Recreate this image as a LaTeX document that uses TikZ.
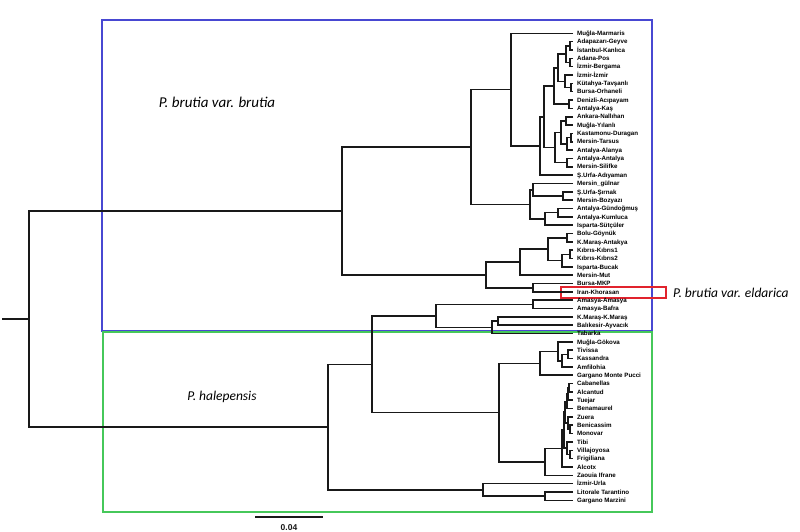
\documentclass[tikz,border=0pt]{standalone}
\usepackage{fontspec}
\setmainfont{Liberation Sans}
\newfontfamily\cladefont{Carlito}
\definecolor{boxblue}{RGB}{72,72,210}
\definecolor{boxgreen}{RGB}{70,200,90}
\definecolor{boxred}{RGB}{225,35,45}

\begin{document}
\begin{tikzpicture}[
		x=1pt, y=-1pt,
		every node/.style={inner sep=0pt},
		leaf/.style={anchor=west, inner xsep=4pt, font=\bfseries\fontsize{6.2}{7}\selectfont, text height=4.5pt, text depth=0pt},
		branch/.style={line width=1.6pt, black!90},
		clade/.style={line width=1.1pt},
		cladelbl/.style={font=\cladefont\itshape\fontsize{13.5}{15}\selectfont}
	]
		\useasboundingbox (0,0) rectangle (800,531);

		% clade boxes
		\draw[clade, boxblue] (102,20) rectangle (652,331);
		\draw[clade, boxgreen] (103,332) rectangle (652,512);
		\draw[clade, boxred] (561,287) rectangle (666,298);

		\node[cladelbl, font=\cladefont\itshape\fontsize{15}{17}\selectfont] (brutia) at (217,102) {P. brutia var. brutia};
		\node[cladelbl] (halep) at (222,397) {P. halepensis};
		\node[cladelbl, anchor=west] (eldar) at (673,293) {P. brutia var. eldarica};

		% leaves
		\foreach \site [count=\i] in {Muğla-Marmaris, Adapazarı-Geyve, İstanbul-Kanlıca, Adana-Pos,
			İzmir-Bergama, İzmir-İzmir, Kütahya-Tavşanlı, Bursa-Orhaneli, Denizli-Acıpayam, Antalya-Kaş,
			Ankara-Nallıhan, Muğla-Yılanlı, Kastamonu-Duragan, Mersin-Tarsus, Antalya-Alanya,
			Antalya-Antalya, Mersin-Silifke, Ş.Urfa-Adıyaman, Mersin\_gülnar, Ş.Urfa-Şırnak,
			Mersin-Bozyazı, Antalya-Gündoğmuş, Antalya-Kumluca, Isparta-Sütçüler, Bolu-Göynük,
			K.Maraş-Antakya, Kıbrıs-Kıbrıs1, Kıbrıs-Kıbrıs2, Isparta-Bucak, Mersin-Mut, Bursa-MKP,
			Iran-Khorasan, Amasya-Amasya, Amasya-Bafra, K.Maraş-K.Maraş, Balıkesir-Ayvacık, Tabarka,
			Muğla-Gökova, Tivissa, Kassandra, Amfilohia, Gargano Monte Pucci, Cabanellas, Alcantud,
			Tuejar, Benamaurel, Zuera, Benicassim, Monovar, Tibi, Villajoyosa, Frigiliana, Alcotx,
			Zaouia Ifrane, İzmir-Urla, Litorale Tarantino, Gargano Marzini}
			\node[leaf] (l\i) at (573, {33.3+(\i-1)*8.34}) {\site};

		% inner nodes, brutia
		\coordinate (a1) at (570,45.8);
		\coordinate (a2) at (570,62.5);
		\coordinate (a3) at (566,54.2);
		\coordinate (a4) at (571,87.5);
		\coordinate (a5) at (565,81.3);
		\coordinate (a6) at (558,67.7);
		\coordinate (a7) at (569,104.2);
		\coordinate (a8) at (554,86.0);
		\coordinate (b1) at (566,120.9);
		\coordinate (b2) at (571,137.5);
		\coordinate (b3) at (567,143.8);
		\coordinate (b4) at (561,132.3);
		\coordinate (b5) at (567,162.6);
		\coordinate (b6) at (555,147.4);
		\coordinate (c1) at (544,116.7);
		\coordinate (c2) at (540,145.9);
		\coordinate (c3) at (511,89.6);
		\coordinate (d1) at (563,196.0);
		\coordinate (d2) at (533,189.7);
		\coordinate (d3) at (558,212.6);
		\coordinate (d4) at (545,218.9);
		\coordinate (d5) at (530,204.3);
		\coordinate (e0) at (471,147.0);
		\coordinate (f1) at (567,237.7);
		\coordinate (f2) at (570,254.3);
		\coordinate (f3) at (562,260.6);
		\coordinate (f4) at (548,249.2);
		\coordinate (f5) at (520,262.2);
		\coordinate (f6) at (533,287.7);
		\coordinate (f7) at (486,275.0);
		\coordinate (g0) at (342,211.0);

		% inner nodes, halepensis
		\coordinate (h1) at (533,304.4);
		\coordinate (h2) at (498,321.1);
		\coordinate (h3) at (492,327.3);
		\coordinate (h4) at (436,315.9);
		\coordinate (i1) at (568,354.4);
		\coordinate (i2) at (562,360.7);
		\coordinate (i3) at (558,351.3);
		\coordinate (i4) at (540,363.3);
		\coordinate (j1) at (569,387.8);
		\coordinate (j2) at (568,394.0);
		\coordinate (j3) at (567,401.3);
		\coordinate (j4) at (570,429.5);
		\coordinate (j5) at (568,423.2);
		\coordinate (j6) at (570,454.5);
		\coordinate (j7) at (567,448.2);
		\coordinate (j8) at (565,412.2);
		\coordinate (j9) at (564,430.2);
		\coordinate (j10) at (562,448.6);
		\coordinate (j11) at (545,462.0);
		\coordinate (k1) at (499,412.6);
		\coordinate (k2) at (372,364.3);
		\coordinate (m1) at (545,496.2);
		\coordinate (m2) at (483,490.0);
		\coordinate (k3) at (328,427.1);
		\coordinate (root) at (29,319.0);
		\coordinate (r0) at (2,319.0);

		% branches
		\draw[branch] (l2.west) -| (a1) |- (l3.west);
		\draw[branch] (l4.west) -| (a2) |- (l5.west);
		\draw[branch] (a1) -| (a3) |- (a2);
		\draw[branch] (l7.west) -| (a4) |- (l8.west);
		\draw[branch] (l6.west) -| (a5) |- (a4);
		\draw[branch] (a3) -| (a6) |- (a5);
		\draw[branch] (l9.west) -| (a7) |- (l10.west);
		\draw[branch] (a6) -| (a8) |- (a7);
		\draw[branch] (l11.west) -| (b1) |- (l12.west);
		\draw[branch] (l13.west) -| (b2) |- (l14.west);
		\draw[branch] (b2) -| (b3) |- (l15.west);
		\draw[branch] (b1) -| (b4) |- (b3);
		\draw[branch] (l16.west) -| (b5) |- (l17.west);
		\draw[branch] (b4) -| (b6) |- (b5);
		\draw[branch] (a8) -| (c1) |- (b6);
		\draw[branch] (c1) -| (c2) |- (l18.west);
		\draw[branch] (l1.west) -| (c3) |- (c2);
		\draw[branch] (l20.west) -| (d1) |- (l21.west);
		\draw[branch] (l19.west) -| (d2) |- (d1);
		\draw[branch] (l22.west) -| (d3) |- (l23.west);
		\draw[branch] (d3) -| (d4) |- (l24.west);
		\draw[branch] (d2) -| (d5) |- (d4);
		\draw[branch] (c3) -| (e0) |- (d5);
		\draw[branch] (l25.west) -| (f1) |- (l26.west);
		\draw[branch] (l27.west) -| (f2) |- (l28.west);
		\draw[branch] (f2) -| (f3) |- (l29.west);
		\draw[branch] (f1) -| (f4) |- (f3);
		\draw[branch] (f4) -| (f5) |- (l30.west);
		\draw[branch] (l31.west) -| (f6) |- (l32.west);
		\draw[branch] (f5) -| (f7) |- (f6);
		\draw[branch] (e0) -| (g0) |- (f7);

		\draw[branch] (l33.west) -| (h1) |- (l34.west);
		\draw[branch] (l35.west) -| (h2) |- (l36.west);
		\draw[branch] (h2) -| (h3) |- (l37.west);
		\draw[branch] (h1) -| (h4) |- (h3);
		\draw[branch] (l39.west) -| (i1) |- (l40.west);
		\draw[branch] (i1) -| (i2) |- (l41.west);
		\draw[branch] (l38.west) -| (i3) |- (i2);
		\draw[branch] (i3) -| (i4) |- (l42.west);
		\draw[branch] (l43.west) -| (j1) |- (l44.west);
		\draw[branch] (j1) -| (j2) |- (l45.west);
		\draw[branch] (j2) -| (j3) |- (l46.west);
		\draw[branch] (l48.west) -| (j4) |- (l49.west);
		\draw[branch] (l47.west) -| (j5) |- (j4);
		\draw[branch] (l51.west) -| (j6) |- (l52.west);
		\draw[branch] (l50.west) -| (j7) |- (j6);
		\draw[branch] (j3) -| (j8) |- (j5);
		\draw[branch] (j8) -| (j9) |- (j7);
		\draw[branch] (j9) -| (j10) |- (l53.west);
		\draw[branch] (j10) -| (j11) |- (l54.west);
		\draw[branch] (i4) -| (k1) |- (j11);
		\draw[branch] (h4) -| (k2) |- (k1);
		\draw[branch] (l56.west) -| (m1) |- (l57.west);
		\draw[branch] (l55.west) -| (m2) |- (m1);
		\draw[branch] (k2) -| (k3) |- (m2);
		\draw[branch] (g0) -| (root) |- (k3);
		\draw[branch] (r0) -- (root);

		% scale bar
		\coordinate (sb0) at (255,517);
		\coordinate (sb1) at (323,517);
		\draw[branch] (sb0) -- (sb1) node[midway, below=6.5pt, font=\bfseries\fontsize{8.5}{10}\selectfont] (sblbl) {0.04};
	\end{tikzpicture}
\end{document}
